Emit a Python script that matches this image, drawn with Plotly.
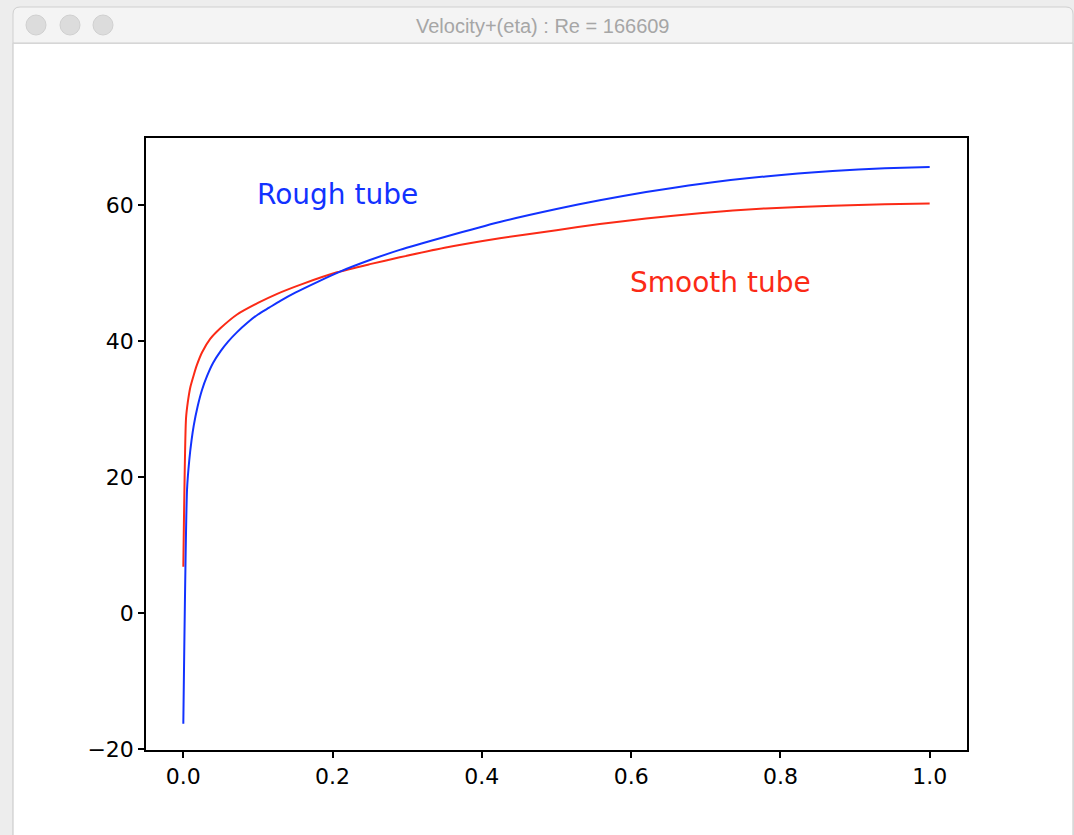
import plotly.graph_objects as go

# ---- data ----
eta_rough = [0.0, 0.005, 0.008, 0.011, 0.014, 0.019, 0.025, 0.032, 0.04, 0.05, 0.06,
             0.072, 0.085, 0.1, 0.115, 0.13, 0.15, 0.18, 0.21, 0.25, 0.29, 0.35,
             0.424, 0.5, 0.558, 0.62, 0.692, 0.78, 0.87, 0.94, 1.0]
u_rough = [-16.3, 18.2, 22.5, 25.4, 27.6, 30.3, 32.8, 34.9, 36.8, 38.5, 39.9,
           41.3, 42.6, 43.9, 44.9, 45.9, 47.1, 48.7, 50.2, 51.9, 53.4, 55.3,
           57.5, 59.4, 60.7, 61.9, 63.1, 64.2, 65.0, 65.4, 65.6]

eta_smooth = [0.0, 0.0036, 0.006, 0.0094, 0.014, 0.018, 0.025, 0.036, 0.05, 0.072,
              0.1, 0.125, 0.16, 0.206, 0.25, 0.29, 0.35, 0.424, 0.5, 0.558, 0.62,
              0.692, 0.78, 0.87, 0.94, 1.0]
u_smooth = [6.8, 28.6, 31.0, 33.2, 35.0, 36.4, 38.3, 40.3, 41.9, 43.9,
            45.6, 46.9, 48.4, 50.1, 51.3, 52.3, 53.7, 55.1, 56.3, 57.2, 58.0,
            58.8, 59.5, 59.9, 60.1, 60.2]

x_ticks = [0.0, 0.2, 0.4, 0.6, 0.8, 1.0]
y_ticks = [-20, 0, 20, 40, 60]
window_title = "Velocity+(eta) : Re = 166609"
label_rough = "Rough tube"
label_smooth = "Smooth tube"

BLUE = "#1232ff"
RED = "#fb2a16"

W, H = 1074, 835
L, R, T, B = 146, 967, 138, 750


def px(x):
    return (x - L) / (R - L)


def py(y):
    return (B - y) / (B - T)


fig = go.Figure()
fig.add_trace(go.Scatter(x=eta_smooth, y=u_smooth, mode="lines",
                         line=dict(color=RED, width=2, shape="spline", smoothing=0.6),
                         showlegend=False))
fig.add_trace(go.Scatter(x=eta_rough, y=u_rough, mode="lines",
                         line=dict(color=BLUE, width=2, shape="spline", smoothing=0.6),
                         showlegend=False))

shapes = []
# window content (white)
shapes.append(dict(type="rect", xref="paper", yref="paper", layer="below",
                   x0=px(13), x1=px(1073), y0=py(845), y1=py(43),
                   fillcolor="white", line=dict(color="#c4c4c4", width=1)))
# title bar
shapes.append(dict(type="path", xref="paper", yref="paper", layer="below",
                   path=(f"M {px(13)},{py(43)} L {px(13)},{py(14)} "
                         f"Q {px(13)},{py(7)} {px(20)},{py(7)} "
                         f"L {px(1066)},{py(7)} Q {px(1073)},{py(7)} {px(1073)},{py(14)} "
                         f"L {px(1073)},{py(43)} Z"),
                   fillcolor="#f4f4f4", line=dict(color="#cfcfcf", width=1)))
shapes.append(dict(type="line", xref="paper", yref="paper", layer="below",
                   x0=px(13), x1=px(1073), y0=py(43.5), y1=py(43.5),
                   line=dict(color="#d6d6d6", width=1)))
# traffic lights
for cx in (36, 70, 103):
    shapes.append(dict(type="circle", xref="paper", yref="paper", layer="below",
                       x0=px(cx - 10), x1=px(cx + 10), y0=py(35), y1=py(15),
                       fillcolor="#dcdcdc", line=dict(color="#d0d0d0", width=1)))

annotations = [
    dict(text=window_title, xref="paper", yref="paper", x=px(543), y=py(26),
         xanchor="center", yanchor="middle", showarrow=False,
         font=dict(family="Liberation Sans, Arial", size=20, color="#a6a6a6")),
    dict(text=label_rough, x=0.1, y=60, xref="x", yref="y", xanchor="left",
         yanchor="bottom", yshift=-8, xshift=-3, showarrow=False,
         font=dict(family="DejaVu Sans", size=28, color=BLUE)),
    dict(text=label_smooth, x=0.6, y=47, xref="x", yref="y", xanchor="left",
         yanchor="bottom", yshift=-8, xshift=-3, showarrow=False,
         font=dict(family="DejaVu Sans", size=28, color=RED)),
]

axis_common = dict(showgrid=False, zeroline=False, showline=True, mirror=True,
                   linecolor="black", linewidth=1.5, ticks="outside", ticklen=6,
                   tickwidth=1.5, tickcolor="black",
                   tickfont=dict(family="DejaVu Sans", size=22, color="black"))

fig.update_layout(
    width=W, height=H,
    margin=dict(l=L, r=W - R, t=T, b=H - B, pad=0),
    paper_bgcolor="#ededed", plot_bgcolor="white",
    shapes=shapes, annotations=annotations,
    xaxis=dict(range=[-0.05, 1.05], tickvals=x_ticks, tickformat=".1f", **axis_common),
    yaxis=dict(range=[-20.15, 69.85], tickvals=y_ticks, **axis_common),
)

fig.write_html("out.html", config=dict(displayModeBar=False))
